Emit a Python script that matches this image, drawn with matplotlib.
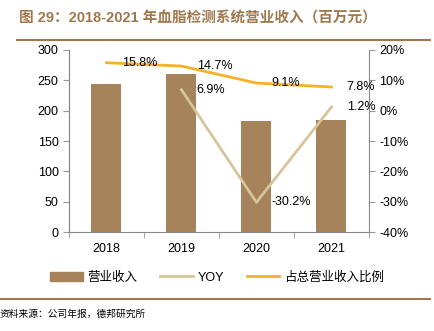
import matplotlib
matplotlib.use("Agg")
import matplotlib.pyplot as plt
import numpy as np
from matplotlib.lines import Line2D

plt.rcParams['font.family'] = ['Liberation Sans', 'Noto Sans CJK SC', 'DejaVu Sans']

# 数据
years = ["2018", "2019", "2020", "2021"]
revenue = [244, 261, 183, 185]
yoy = [np.nan, 6.9, -30.2, 1.2]
share = [15.8, 14.7, 9.1, 7.8]

c_bar = "#A6835A"
c_yoy = "#D6C59B"
c_share = "#F4B224"
c_title = "#A0784E"

fig = plt.figure(figsize=(4.34, 3.31), dpi=100)
ax = fig.add_axes([0.159, 0.299, 0.691, 0.55])
ax2 = ax.twinx()

x = np.arange(len(years))
ax.bar(x, revenue, width=0.4, color=c_bar, zorder=1)
ax.set_ylim(0, 300)
ax.set_xlim(-0.5, 3.5)
ax.set_yticks(range(0, 301, 50))
ax.set_xticks(x)
ax.set_xticklabels(years)
ax.set_xticks(np.arange(-0.5, 4, 1), minor=True)
ax.tick_params(axis="x", which="major", length=0, labelsize=9, pad=8)
ax.tick_params(axis="x", which="minor", length=4, color="#999999")
ax.tick_params(axis="y", length=4, color="#999999", labelsize=9)

ax2.plot(x, yoy, color=c_yoy, lw=2)
ax2.plot(x, share, color=c_share, lw=2)
ax2.set_ylim(-40, 20)
ax2.set_yticks(range(-40, 21, 10))
ax2.set_yticklabels([f"{v}%" for v in range(-40, 21, 10)])
ax2.tick_params(axis="y", length=4, color="#999999", labelsize=9)

for a in (ax, ax2):
    a.spines["top"].set_visible(False)
    for s in ("left", "right", "bottom"):
        a.spines[s].set_color("#888888")
        a.spines[s].set_linewidth(0.8)
ax2.spines["bottom"].set_visible(False)
ax.spines["right"].set_visible(False)

# 数据标签
for xi, v in zip(x, share):
    ax2.annotate(f"{v}%", (xi, v), xytext=(11, 0), textcoords="offset points",
                 fontsize=9, va="center", ha="left")
for xi, v in zip(x, yoy):
    if not np.isnan(v):
        ax2.annotate(f"{v}%", (xi, v), xytext=(11, 0), textcoords="offset points",
                     fontsize=9, va="center", ha="left")

# 图例
handles = [
    plt.Rectangle((0, 0), 1, 1, color=c_bar),
    Line2D([], [], color=c_yoy, lw=2),
    Line2D([], [], color=c_share, lw=2),
]
fig.legend(handles, ["营业收入", "YOY", "占总营业收入比例"], loc="center",
           bbox_to_anchor=(0.5, 0.162), ncol=3, frameon=False, fontsize=9,
           handlelength=2.6, columnspacing=1.8, handletextpad=0.4)

# 标题和来源
fig.text(0.044, 0.945, "图 29：2018-2021 年血脂检测系统营业收入（百万元）",
         fontsize=10.5, fontweight="bold", color=c_title, va="center")
fig.add_artist(Line2D([0.04, 0.99], [0.88, 0.88], color=c_title, lw=1.5))
fig.add_artist(Line2D([0.0, 0.99], [0.097, 0.097], color=c_title, lw=1.5))
fig.text(0.0, 0.052, "资料来源：公司年报，德邦研究所", fontsize=7, va="center")

fig.savefig("out.png", dpi=100)
